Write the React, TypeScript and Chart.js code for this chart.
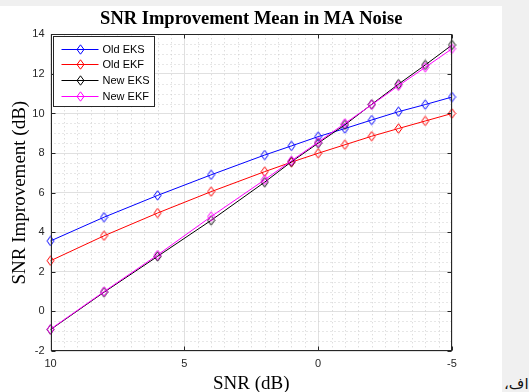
import React, { useEffect, useRef } from "react";
import { Chart, registerables } from "chart.js";

Chart.register(...registerables);

// ---------- data ----------
const TITLE = "SNR Improvement Mean in MA Noise";
const X_LABEL = "SNR (dB)";
const Y_LABEL = "SNR Improvement (dB)";
const SIDE_TEXT = "اف،";

const SNR = [10, 8, 6, 4, 2, 1, 0, -1, -2, -3, -4, -5];
const OLD_EKS = [3.56, 4.76, 5.86, 6.9, 7.9, 8.36, 8.83, 9.24, 9.67, 10.09, 10.45, 10.83];
const OLD_EKF = [2.56, 3.82, 4.97, 6.05, 7.06, 7.54, 7.99, 8.42, 8.85, 9.24, 9.62, 10.0];
const NEW_EKS = [-0.92, 0.97, 2.78, 4.6, 6.53, 7.56, 8.5, 9.43, 10.46, 11.48, 12.45, 13.46];
const NEW_EKF = [-0.9, 1.0, 2.85, 4.79, 6.65, 7.61, 8.55, 9.5, 10.44, 11.4, 12.33, 13.27];

const SERIES_LABELS = ["Old EKS", "Old EKF", "New EKS", "New EKF"];
const SERIES_VALUES = [OLD_EKS, OLD_EKF, NEW_EKS, NEW_EKF];
const SERIES_COLORS = ["#0000ff", "#ff0000", "#000000", "#ff00ff"];

const X_MIN = -5;
const X_MAX = 10;
const X_STEP = 5;
const X_MINOR = 0.5;
const Y_MIN = -2;
const Y_MAX = 14;
const Y_STEP = 2;
const Y_MINOR = 0.5;

// ---------- styling ----------
const W = 502;
const H = 386;
const AXIS_COLOR = "#262626";
const SANS = '"Liberation Sans", Arial, Helvetica, sans-serif';
const SERIF = '"Liberation Serif", "Times New Roman", Times, serif';

function makeDiamond(color: string): HTMLCanvasElement {
  const c = document.createElement("canvas");
  c.width = 9;
  c.height = 11;
  const g = c.getContext("2d")!;
  g.strokeStyle = color;
  g.lineWidth = 1;
  g.beginPath();
  g.moveTo(4.5, 0.8);
  g.lineTo(8, 5.5);
  g.lineTo(4.5, 10.2);
  g.lineTo(1, 5.5);
  g.closePath();
  g.stroke();
  return c;
}

const matlabAxes = {
  id: "matlabAxes",
  afterLayout(chart: any) {
    // MATLAB centres the title over the axes box, not over the whole figure
    const tb = chart.titleBlock;
    if (tb) {
      tb.left = chart.chartArea.left;
      tb.right = chart.chartArea.right;
      tb.width = tb.right - tb.left;
    }
  },
  beforeDatasetsDraw(chart: any) {
    const { ctx, chartArea: a, scales } = chart;
    const x = scales.x;
    const y = scales.y;
    ctx.save();
    ctx.strokeStyle = "#cfcfcf";
    ctx.lineWidth = 1;
    ctx.setLineDash([1, 3]);
    for (let v = X_MIN; v <= X_MAX + 1e-9; v += X_MINOR) {
      if (Math.abs(v / X_STEP - Math.round(v / X_STEP)) < 1e-9) continue;
      const px = Math.round(x.getPixelForValue(v)) + 0.5;
      ctx.beginPath();
      ctx.moveTo(px, a.top);
      ctx.lineTo(px, a.bottom);
      ctx.stroke();
    }
    for (let v = Y_MIN; v <= Y_MAX + 1e-9; v += Y_MINOR) {
      if (Math.abs(v / Y_STEP - Math.round(v / Y_STEP)) < 1e-9) continue;
      const py = Math.round(y.getPixelForValue(v)) + 0.5;
      ctx.beginPath();
      ctx.moveTo(a.left, py);
      ctx.lineTo(a.right, py);
      ctx.stroke();
    }
    ctx.restore();
  },
  afterDatasetsDraw(chart: any) {
    const { ctx, chartArea: a, scales } = chart;
    const x = scales.x;
    const y = scales.y;
    const L = Math.round(a.left) + 0.5;
    const R = Math.round(a.right) - 0.5;
    const T = Math.round(a.top) + 0.5;
    const B = Math.round(a.bottom) - 0.5;
    ctx.save();
    ctx.strokeStyle = AXIS_COLOR;
    ctx.lineWidth = 1;
    ctx.setLineDash([]);
    ctx.strokeRect(L, T, R - L, B - T);
    const TL = 4;
    for (let v = X_MIN; v <= X_MAX; v += X_STEP) {
      const px = Math.round(x.getPixelForValue(v)) + 0.5;
      ctx.beginPath();
      ctx.moveTo(px, B);
      ctx.lineTo(px, B - TL);
      ctx.moveTo(px, T);
      ctx.lineTo(px, T + TL);
      ctx.stroke();
    }
    for (let v = Y_MIN; v <= Y_MAX; v += Y_STEP) {
      const py = Math.round(y.getPixelForValue(v)) + 0.5;
      ctx.beginPath();
      ctx.moveTo(L, py);
      ctx.lineTo(L + TL, py);
      ctx.moveTo(R, py);
      ctx.lineTo(R - TL, py);
      ctx.stroke();
    }

    // legend box (north-west)
    const lx = L + 2;
    const ly = T + 2;
    const lw = 101;
    const lh = 70;
    ctx.fillStyle = "#ffffff";
    ctx.fillRect(lx, ly, lw, lh);
    ctx.strokeStyle = AXIS_COLOR;
    ctx.strokeRect(lx, ly, lw, lh);
    ctx.font = `11px ${SANS}`;
    ctx.textBaseline = "middle";
    ctx.textAlign = "left";
    chart.data.datasets.forEach((ds: any, i: number) => {
      const cy = Math.round(ly + 12 + i * 15.7) + 0.5;
      ctx.strokeStyle = ds.borderColor;
      ctx.beginPath();
      ctx.moveTo(lx + 8, cy);
      ctx.lineTo(lx + 45, cy);
      ctx.stroke();
      const img = ds.pointStyle as HTMLCanvasElement;
      ctx.drawImage(img, Math.round(lx + 26.5 - img.width / 2), Math.round(cy - img.height / 2));
      ctx.fillStyle = "#000000";
      ctx.fillText(ds.label, lx + 49, cy + 0.5);
    });
    ctx.restore();
  },
};

export default function App() {
  const ref = useRef<HTMLCanvasElement | null>(null);

  useEffect(() => {
    if (!ref.current) return;
    const order = [4, 3, 2, 1];
    const chart = new Chart(ref.current, {
      type: "line",
      data: {
        datasets: SERIES_LABELS.map((label, i) => ({
          label,
          data: SNR.map((s, j) => ({ x: s, y: SERIES_VALUES[i][j] })),
          borderColor: SERIES_COLORS[i],
          backgroundColor: "transparent",
          borderWidth: 1,
          pointStyle: makeDiamond(SERIES_COLORS[i]) as any,
          pointRadius: 5,
          pointHoverRadius: 5,
          tension: 0,
          clip: false as any,
          order: order[i],
        })),
      },
      options: {
        responsive: false,
        animation: false,
        devicePixelRatio: 1,
        events: [],
        layout: { padding: { left: 0.5, right: 50, top: 0, bottom: 0 } },
        plugins: {
          legend: { display: false },
          tooltip: { enabled: false },
          title: {
            display: true,
            text: TITLE,
            color: "#000000",
            font: { family: SERIF, size: 18.5, weight: "bold", lineHeight: 1.2 },
            padding: { top: 2.4, bottom: 3.7 },
          },
        },
        scales: {
          x: {
            type: "linear",
            reverse: true,
            min: X_MIN,
            max: X_MAX,
            afterFit: (s: any) => {
              s.height = 41;
            },
            ticks: {
              stepSize: X_STEP,
              color: AXIS_COLOR,
              font: { family: SANS, size: 11 },
              padding: 6,
              maxRotation: 0,
              autoSkip: false,
            },
            grid: { color: "#e0e0e0", lineWidth: 1, drawTicks: false },
            border: { display: false },
            title: {
              display: true,
              text: X_LABEL,
              color: "#000000",
              font: { family: SERIF, size: 19, lineHeight: 0.84 },
              padding: { top: 0, bottom: 0 },
            },
          },
          y: {
            type: "linear",
            min: Y_MIN,
            max: Y_MAX,
            afterFit: (s: any) => {
              s.width = 50;
            },
            ticks: {
              stepSize: Y_STEP,
              color: AXIS_COLOR,
              font: { family: SANS, size: 11 },
              padding: 6,
            },
            grid: { color: "#e0e0e0", lineWidth: 1, drawTicks: false },
            border: { display: false },
            title: {
              display: true,
              text: Y_LABEL,
              color: "#000000",
              font: { family: SERIF, size: 19, lineHeight: 1.2 },
              padding: { top: 8.6, bottom: 0 },
            },
          },
        },
      } as any,
      plugins: [matlabAxes],
    });
    return () => chart.destroy();
  }, []);

  return (
    <div
      style={{
        position: "fixed",
        left: 0,
        top: 0,
        width: 529,
        height: 392,
        background: "#f0f0f0",
        overflow: "hidden",
      }}
    >
      <div
        style={{
          position: "absolute",
          left: 0,
          top: 6,
          width: W,
          height: H,
          background: "#ffffff",
        }}
      >
        <canvas ref={ref} width={W} height={H} style={{ width: W, height: H, display: "block" }} />
      </div>
      <div
        dir="rtl"
        style={{
          position: "absolute",
          left: 504,
          top: 374,
          fontFamily: '"DejaVu Sans", "Noto Sans", sans-serif',
          fontSize: 15,
          color: "#111",
          whiteSpace: "nowrap",
          lineHeight: "20px",
        }}
      >
        {SIDE_TEXT}
      </div>
    </div>
  );
}
